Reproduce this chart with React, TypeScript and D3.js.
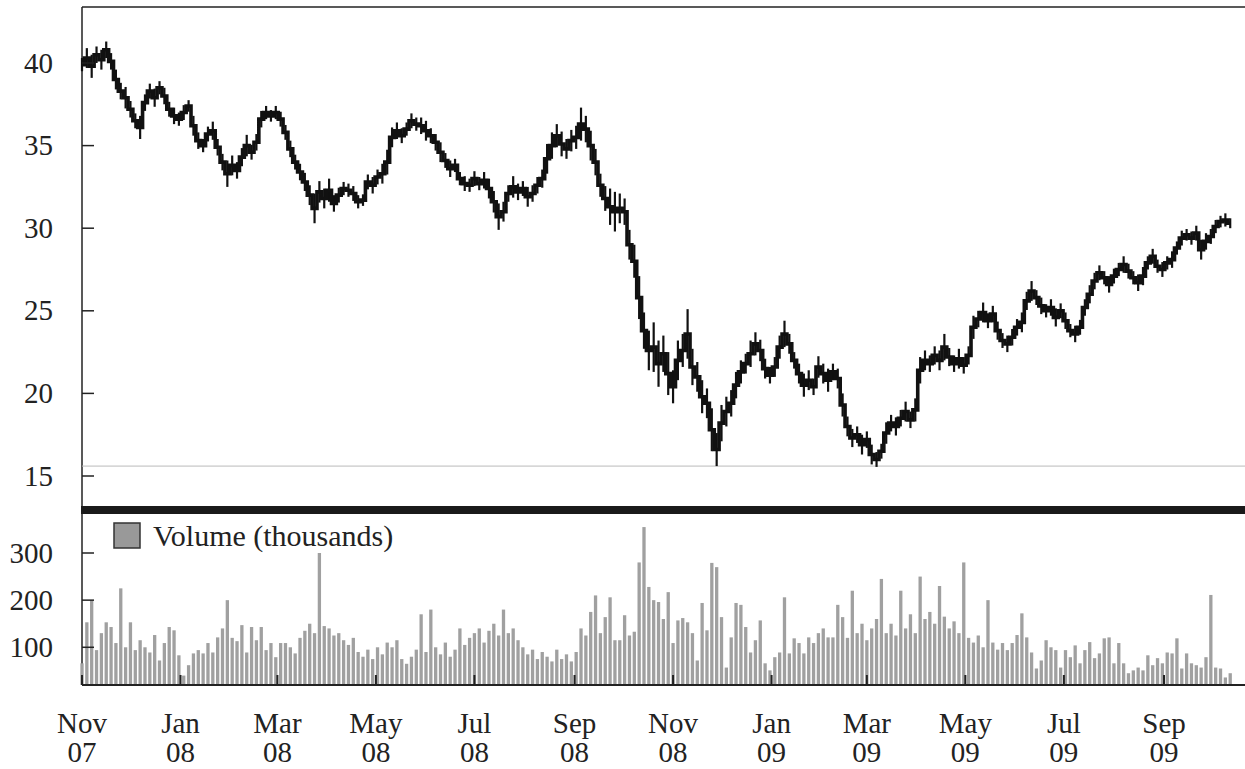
import React from "react";
import * as d3 from "d3";

// Sampling: one observation every 3 calendar days starting 1 Nov 2007
const startDate = new Date(2007, 10, 1);
const stepDays = 3;

// Price, one value per sample
const price: number[] = [
  39.9, 40.3, 39.8, 40.5, 40.2, 40.8, 40.1, 39.0, 38.3, 37.9,
  37.2, 36.5, 36.1, 37.6, 38.3, 37.9, 38.5, 38.0, 37.2, 36.8,
  36.6, 37.0, 37.4, 36.2, 35.3, 35.0, 35.7, 35.9, 34.9, 34.0,
  33.3, 33.8, 33.5, 34.3, 35.0, 34.6, 35.2, 36.6, 37.0, 36.8,
  37.0, 36.6, 35.8, 34.8, 34.0, 33.4, 32.8, 32.0, 31.2, 32.2,
  31.8, 32.3, 31.5, 32.0, 32.4, 32.3, 32.1, 31.6, 31.7, 32.8,
  32.6, 33.1, 33.3, 34.0, 35.5, 35.9, 35.6, 36.0, 36.5, 36.3,
  36.2, 35.9, 35.6, 35.2, 34.6, 34.1, 33.6, 33.8, 33.0, 32.7,
  32.6, 33.0, 32.7, 32.9, 32.4, 31.6, 30.7, 31.0, 32.1, 32.5,
  32.2, 32.4, 31.9, 32.1, 32.6, 33.0, 34.2, 35.0, 35.6, 35.1,
  34.8, 35.3, 35.5, 36.3, 36.0, 35.0, 34.0, 32.6, 31.8, 31.3,
  31.0, 31.2, 31.0, 29.0, 28.0, 25.8, 23.8, 22.6, 22.8, 21.8,
  22.4, 21.2, 20.4, 22.0, 22.6, 23.6, 21.6, 21.0, 19.8, 19.4,
  17.8, 16.6, 18.2, 18.9, 19.4, 20.5, 21.3, 21.8, 22.4, 23.0,
  22.6, 21.5, 21.1, 21.6, 22.8, 23.6, 23.0, 22.0, 21.2, 20.5,
  20.8, 20.4, 21.6, 21.2, 20.8, 21.3, 20.9, 19.3, 18.0, 17.3,
  17.5, 16.9, 17.2, 16.3, 16.0, 16.5, 17.6, 18.2, 18.0, 18.5,
  18.9, 18.4, 19.0, 21.4, 22.0, 21.8, 22.3, 22.0, 22.8, 22.2,
  21.8, 22.1, 21.7, 22.3, 24.0, 24.5, 24.9, 24.4, 24.8, 23.8,
  23.2, 23.0, 23.4, 24.0, 24.3, 25.6, 26.2, 25.8, 25.3, 25.0,
  25.2, 24.6, 25.0, 24.4, 23.8, 23.6, 24.0, 25.2, 26.0, 26.8,
  27.3, 27.0, 26.6, 27.1, 27.5, 27.8, 27.4, 27.0, 26.7, 27.1,
  27.9, 28.3, 27.7, 27.5, 27.9, 28.1, 28.8, 29.4, 29.6, 29.4,
  29.7, 28.7, 29.2, 29.5, 30.1, 30.4, 30.5, 30.3,
];

const range: number[] = [
  0.8, 1.2, 1.4, 1.0, 1.2, 1.0, 1.0, 1.2, 1.0, 1.3,
  1.0, 0.9, 1.4, 1.0, 0.9, 1.1, 0.8, 1.0, 0.9, 1.0,
  0.8, 0.9, 0.7, 1.2, 1.0, 0.8, 0.9, 1.1, 1.0, 1.0,
  1.6, 1.2, 1.0, 1.1, 1.3, 0.9, 1.0, 1.0, 0.8, 0.7,
  0.8, 0.9, 0.9, 1.0, 0.9, 1.0, 1.1, 1.2, 1.8, 1.3,
  1.2, 1.4, 1.0, 0.9, 0.8, 0.8, 0.9, 0.8, 0.7, 0.9,
  1.0, 0.9, 1.2, 1.5, 1.2, 1.0, 0.9, 0.8, 0.9, 0.8,
  1.0, 1.2, 0.9, 1.0, 1.2, 0.9, 1.0, 0.8, 0.8, 0.9,
  0.8, 0.9, 0.8, 1.0, 1.2, 1.3, 1.6, 1.2, 1.0, 1.3,
  1.0, 0.9, 1.2, 1.0, 1.0, 1.1, 1.8, 1.6, 1.4, 1.5,
  1.2, 1.3, 1.4, 2.0, 1.6, 1.8, 1.6, 1.4, 1.5, 2.2,
  2.4, 1.8, 1.6, 1.8, 2.0, 2.6, 2.2, 2.4, 3.0, 2.8,
  2.2, 2.6, 2.0, 2.4, 2.0, 3.0, 2.2, 1.8, 2.0, 1.8,
  2.6, 2.0, 2.2, 1.8, 1.6, 1.6, 1.4, 1.2, 1.6, 1.4,
  1.3, 1.2, 1.0, 1.2, 1.4, 1.6, 1.2, 1.0, 1.2, 1.4,
  1.2, 1.0, 1.3, 1.2, 1.4, 1.0, 1.2, 1.4, 1.2, 1.1,
  1.0, 1.2, 1.0, 1.2, 0.9, 0.9, 1.3, 1.0, 1.1, 1.0,
  1.2, 1.0, 1.4, 1.6, 1.2, 1.0, 1.1, 1.2, 1.6, 1.1,
  1.0, 1.2, 1.0, 1.1, 1.4, 1.0, 1.2, 0.9, 1.0, 1.1,
  0.9, 1.0, 1.0, 1.0, 1.2, 1.1, 1.2, 0.9, 1.0, 0.8,
  1.0, 1.1, 0.9, 1.0, 0.8, 1.0, 0.9, 1.0, 1.1, 1.0,
  0.9, 0.8, 1.0, 0.9, 0.8, 1.0, 0.9, 0.8, 1.0, 1.1,
  0.8, 0.9, 0.8, 0.9, 0.8, 1.0, 0.8, 0.9, 0.7, 0.8,
  0.9, 1.2, 1.0, 0.9, 0.8, 0.7, 0.8, 0.6,
];

// Volume in thousands, one value per sample
const volume: number[] = [
  66, 153, 200, 94, 130, 153, 143, 109, 225, 100,
  153, 94, 115, 100, 89, 126, 72, 109, 143, 136,
  83, 40, 62, 87, 94, 87, 109, 89, 121, 140,
  200, 120, 113, 147, 89, 143, 115, 143, 94, 109,
  79, 109, 109, 100, 87, 120, 135, 150, 130, 300,
  145, 140, 125, 130, 115, 105, 120, 90, 80, 95,
  75, 100, 85, 110, 100, 115, 75, 65, 80, 95,
  170, 90, 180, 100, 85, 110, 80, 95, 140, 105,
  120, 130, 140, 110, 135, 150, 125, 180, 130, 140,
  115, 100, 85, 95, 75, 90, 80, 70, 95, 75,
  85, 70, 90, 140, 125, 175, 210, 130, 164, 206,
  115, 115, 168, 125, 133, 280, 355, 228, 200, 196,
  160, 217, 109, 157, 162, 153, 130, 72, 194, 136,
  279, 270, 164, 57, 121, 194, 190, 143, 89, 115,
  157, 66, 51, 79, 89, 206, 87, 119, 109, 87,
  121, 109, 130, 140, 121, 121, 190, 164, 120, 220,
  130, 150, 115, 140, 160, 245, 130, 150, 125, 220,
  140, 170, 130, 250, 160, 175, 150, 230, 165, 140,
  155, 130, 280, 120, 110, 125, 100, 200, 110, 95,
  109, 94, 109, 126, 172, 121, 89, 55, 72, 115,
  100, 94, 57, 94, 79, 104, 66, 94, 111, 77,
  87, 119, 121, 66, 109, 66, 45, 51, 57, 51,
  83, 62, 77, 66, 89, 87, 119, 55, 87, 66,
  62, 57, 79, 211, 57, 55, 36, 45,
];

const priceTicks = [15, 20, 25, 30, 35, 40];
const volumeTicks = [100, 200, 300];
const legendLabel = "Volume (thousands)";

const W = 1245;
const H = 769;
const left = 82;
const right = 1245;
const top = 7;
const baseY = 685;
const FONT = "'Liberation Serif', 'Times New Roman', serif";
const TXT = "#222";

export default function App() {
  const dates = price.map((_, i) => d3.timeDay.offset(startDate, i * stepDays));
  const x = d3
    .scaleTime()
    .domain([new Date(2007, 10, 1), new Date(2009, 8, 1)])
    .range([82, 1164]);
  const yP = d3.scaleLinear().domain([15, 40]).range([476, 63]);
  const yV = d3.scaleLinear().domain([20, 300]).range([685, 553]);

  const line = d3
    .line<number>()
    .x((_, i) => x(dates[i]))
    .y((d) => yP(d))
    .curve(d3.curveStep);

  const monthTicks = d3.timeMonth
    .every(2)!
    .range(new Date(2007, 10, 1), new Date(2009, 9, 2));
  const fmtM = d3.timeFormat("%b");
  const fmtY = d3.timeFormat("%y");
  const barW = 3.3;

  return (
    <svg
      width={W}
      height={H}
      style={{ position: "absolute", left: 0, top: 0, background: "#fff" }}
      fontFamily={FONT}
    >
      {/* frame */}
      <line x1={left} x2={right} y1={top} y2={top} stroke="#222" strokeWidth={1.5} />
      <line x1={left} x2={left} y1={top} y2={baseY} stroke="#222" strokeWidth={1.5} />
      {/* support line */}
      <line x1={left} x2={right} y1={yP(15.6)} y2={yP(15.6)} stroke="#bbb" strokeWidth={1} />
      {/* price high-low bars */}
      {price.map((p, i) => (
        <line
          key={"hl" + i}
          x1={x(dates[i])}
          x2={x(dates[i])}
          y1={yP(p + range[i] / 2)}
          y2={yP(p - range[i] / 2)}
          stroke="#111"
          strokeWidth={2.2}
        />
      ))}
      {/* price */}
      <path d={line(price) || ""} fill="none" stroke="#111" strokeWidth={3.6} strokeLinejoin="miter" />
      {/* price ticks */}
      {priceTicks.map((t) => (
        <g key={"p" + t}>
          <line x1={left} x2={left + 12} y1={yP(t)} y2={yP(t)} stroke="#222" strokeWidth={1.5} />
          <text x={53} y={yP(t) + 9.5} textAnchor="end" fontSize={29} fill={TXT}>
            {t}
          </text>
        </g>
      ))}
      {/* separator */}
      <rect x={left - 1} y={506} width={right - left + 1} height={8} fill="#1a1a1a" />
      {/* volume bars */}
      {volume.map((v, i) => (
        <rect
          key={"v" + i}
          x={x(dates[i]) - barW / 2}
          y={yV(v)}
          width={barW}
          height={baseY - yV(v)}
          fill="#a0a0a0"
        />
      ))}
      {/* volume ticks */}
      {volumeTicks.map((t) => (
        <g key={"vt" + t}>
          <line x1={left} x2={left + 12} y1={yV(t)} y2={yV(t)} stroke="#222" strokeWidth={1.5} />
          <text x={53} y={yV(t) + 9.5} textAnchor="end" fontSize={29} fill={TXT}>
            {t}
          </text>
        </g>
      ))}
      {/* legend */}
      <rect x={114} y={523} width={26} height={25} fill="#999" stroke="#333" strokeWidth={1.5} />
      <text x={153} y={546} fontSize={30} fill={TXT}>
        {legendLabel}
      </text>
      {/* x axis */}
      <line x1={left} x2={right} y1={baseY} y2={baseY} stroke="#222" strokeWidth={2} />
      {monthTicks.map((m) => (
        <g key={m.toISOString()}>
          <line x1={x(m)} x2={x(m)} y1={baseY} y2={baseY - 10} stroke="#222" strokeWidth={2} />
          <text x={x(m)} y={733} textAnchor="middle" fontSize={29} fill={TXT}>
            {fmtM(m)}
          </text>
          <text x={x(m)} y={762} textAnchor="middle" fontSize={29} fill={TXT}>
            {fmtY(m)}
          </text>
        </g>
      ))}
    </svg>
  );
}
